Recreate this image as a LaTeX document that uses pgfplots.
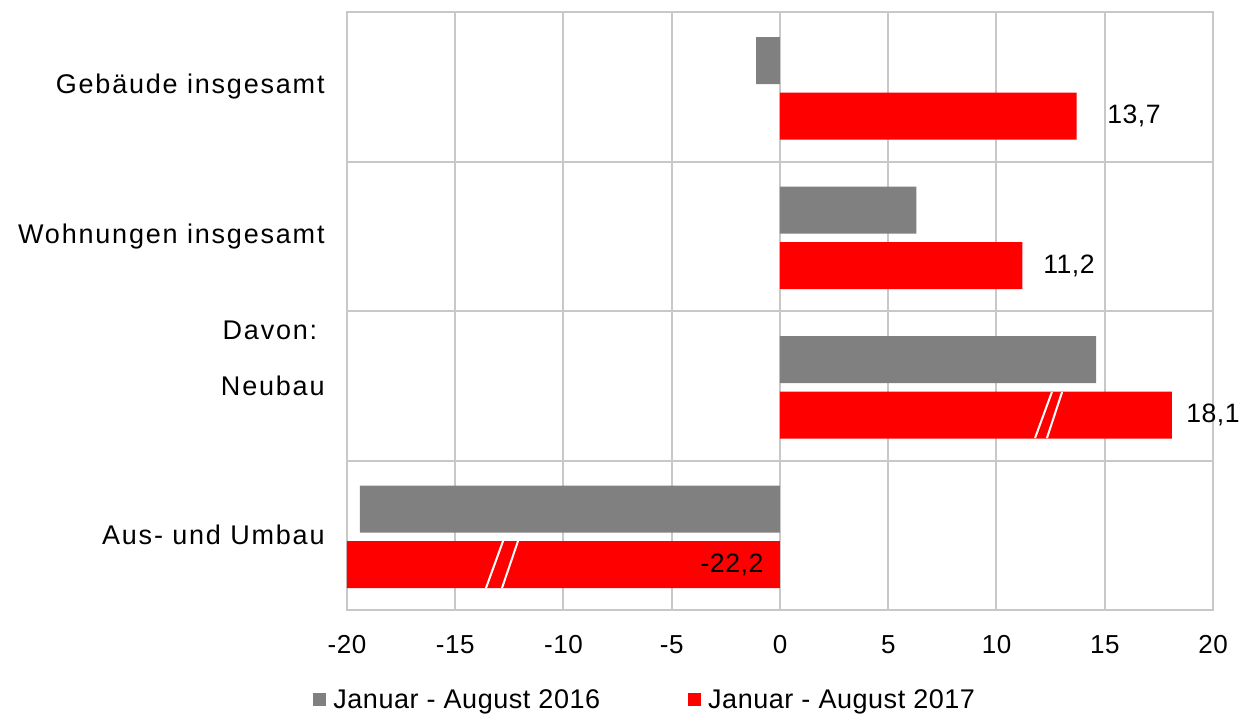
\documentclass[border=0pt]{standalone}
\usepackage{pgfplots}
\pgfplotsset{compat=1.18}
\usepackage{fontspec}
\setmainfont{Liberation Sans}
\newfontfamily\catfont[LetterSpace=6.7]{Liberation Sans}
\newfontfamily\legfont[LetterSpace=2]{Liberation Sans}
\definecolor{barGray}{HTML}{808080}
\definecolor{barRed}{HTML}{FF0000}
\definecolor{gridGray}{HTML}{C8C8C8}
\begin{document}
\begin{tikzpicture}
\useasboundingbox (-173.5pt,-51.5pt) rectangle (450pt,305pt);
\begin{axis}[
  at={(0pt,0pt)}, anchor=south west,
  scale only axis, width=433pt, height=299pt,
  xbar, bar width=0.3144,
  xmin=-20, xmax=20, ymin=-0.5, ymax=3.5,
  xtick={-20,-15,-10,-5,0,5,10,15,20},
  xticklabels={-20,-15,-10,-5,0,5,10,15,20},
  ytick={0,1,2,3},
  yticklabels={Aus- und Umbau, Neubau, Wohnungen insgesamt, Gebäude insgesamt},
  minor ytick={0.5,1.5,2.5},
  xmajorgrids, yminorgrids,
  grid style={draw=gridGray, line width=1pt},
  minor grid style={draw=gridGray, line width=1pt},
  axis line style={draw=gridGray, line width=1pt},
  major tick length=0pt, minor tick length=0pt,
  tick style={draw=none},
  xticklabel style={font=\legfont\fontsize{13}{15}\selectfont, anchor=base, yshift=-21.5pt, inner sep=0pt},
  yticklabel style={font=\catfont\fontsize{13.5}{16}\selectfont, anchor=east, inner sep=0pt, xshift=-11pt},
  clip mode=individual,
  legend columns=2,
  legend style={draw=none, fill=none, at={(0,0)}, anchor=west, xshift=-17pt, yshift=-45.5pt,
    font=\legfont\fontsize{13.5}{16}\selectfont, inner sep=0pt, nodes={inner sep=0pt},
    /tikz/every even column/.append style={column sep=44pt},
    /tikz/every odd column/.append style={column sep=3.5pt}},
]
\addplot[fill=barGray, draw=none, bar shift=0.175,
  legend image code/.code={\fill[barGray] (0pt,-2.5pt) rectangle (6.5pt,4pt);}]
  coordinates {(-19.4,0) (14.6,1) (6.3,2) (-1.1,3)};
\addplot[fill=barRed, draw=none, bar shift=-0.197,
  legend image code/.code={\fill[barRed] (0pt,-2.5pt) rectangle (6.5pt,4pt);}]
  coordinates {(-22.2,0) (18.1,1) (11.2,2) (13.7,3)};
\legend{Januar - August 2016, Januar - August 2017}
\draw[white, line width=1pt] (axis cs:11.78,0.650) -- (axis cs:12.56,0.958);
\draw[white, line width=1pt] (axis cs:12.33,0.650) -- (axis cs:13.03,0.958);
\draw[white, line width=1pt] (axis cs:-13.58,-0.353) -- (axis cs:-12.79,-0.038);
\draw[white, line width=1pt] (axis cs:-12.84,-0.353) -- (axis cs:-12.10,-0.038);
\node[font=\legfont\fontsize{13.3}{15}\selectfont] at (axis cs:16.35,2.803) {13,7};
\node[font=\legfont\fontsize{13.3}{15}\selectfont] at (axis cs:13.35,1.803) {11,2};
\node[font=\legfont\fontsize{13.3}{15}\selectfont] at (axis cs:20.0,0.803) {18,1};
\node[font=\legfont\fontsize{13.3}{15}\selectfont] at (axis cs:-2.22,-0.197) {-22,2};
\node[font=\catfont\fontsize{13.5}{16}\selectfont] at (axis cs:-23.56,1.373) {Davon:};
\end{axis}
\end{tikzpicture}
\end{document}
